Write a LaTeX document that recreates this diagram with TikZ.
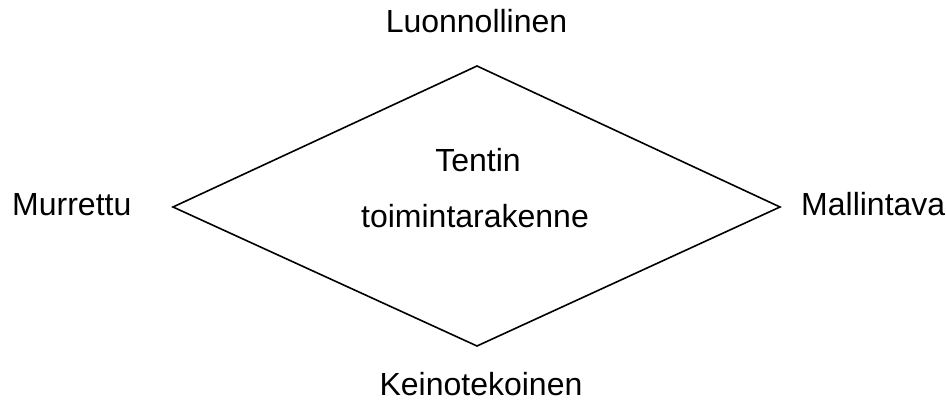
\documentclass[tikz,border=0pt]{standalone}
\usepackage{fontspec}
\setmainfont{Liberation Sans}
\begin{document}
\begin{tikzpicture}[x=1pt,y=-1pt,
  lbl/.style={inner sep=0pt,font=\fontsize{32}{38}\selectfont},
  edge/.style={line width=1.6pt,line join=miter}]
\useasboundingbox (0,0) rectangle (946,403);
\coordinate (T) at (477,66);
\coordinate (R) at (780,207);
\coordinate (B) at (477,346);
\coordinate (L) at (173,207);
\draw[edge] (T) -- (R) -- (B) -- (L) -- cycle;
\node[lbl,anchor=base] (top) at (476.5,33) {Luonnollinen};
\node[lbl,anchor=base west] (left) at (12,216) {Murrettu};
\node[lbl,anchor=base west] (right) at (801,216) {Mallintava};
\node[lbl,anchor=base] (bottom) at (481,396) {Keinotekoinen};
\node[lbl,anchor=base] (c1) at (478,172) {Tentin};
\node[lbl,anchor=base] (c2) at (475,228) {toimintarakenne};
\end{tikzpicture}
\end{document}
